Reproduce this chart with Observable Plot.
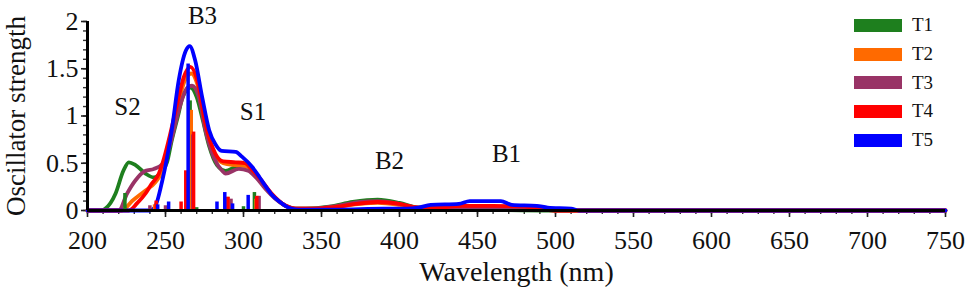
<!DOCTYPE html>
<html>
<head>
<meta charset="utf-8">
<script src="https://cdn.jsdelivr.net/npm/d3@7"></script>
<script src="https://cdn.jsdelivr.net/npm/@observablehq/plot@0.6"></script>
<style>
  body { margin: 0; background: #fff; }
  #wrap { position: relative; width: 975px; height: 290px; }
  #legend { position: absolute; left: 854px; top: 11px; font-family: "Liberation Serif", serif; font-size: 19px; color: #111; }
  .item { display: flex; align-items: center; height: 28.7px; }
  .sw { width: 48px; height: 13px; margin-right: 10px; }
</style>
</head>
<body>
<div id="wrap"><div id="legend"></div></div>
<script>
// Series
const seriesNames = ["T1", "T2", "T3", "T4", "T5"];
const seriesColors = ["#1e7f1e", "#ff6a00", "#993366", "#ff0000", "#0000ff"];

// Convoluted spectra: [wavelength nm, oscillator strength]
const spectrumT1 = [[200,0],[209,0],[211.5,0.02],[218,0.18],[223,0.42],[226.5,0.51],[230.8,0.48],[237.2,0.39],[242.5,0.35],[247.9,0.42],[251,0.51],[254,0.74],[258,1.0],[261,1.2],[266,1.3],[270,1.2],[274,0.95],[278,0.68],[283,0.48],[288.5,0.42],[295,0.46],[301,0.48],[305.6,0.42],[310,0.33],[314,0.25],[320,0.14],[324.8,0.07],[333,0.02],[340,0.02],[355,0.04],[370,0.09],[386,0.115],[400,0.08],[412,0.03],[425,0.02],[450,0.01],[500,0],[750,0]];
const spectrumT2 = [[200,0],[222,0],[228.6,0.1],[237,0.21],[243.6,0.3],[248,0.42],[252,0.68],[257.5,1.08],[262,1.36],[266.5,1.45],[270.5,1.33],[275.6,0.9],[282,0.58],[287,0.5],[295,0.48],[301,0.47],[305,0.42],[310,0.33],[318,0.17],[327,0.05],[333,0.02],[345,0.02],[360,0.04],[375,0.07],[386,0.08],[400,0.06],[412,0.03],[430,0.03],[450,0.04],[470,0.03],[490,0.01],[500,0],[750,0]];
const spectrumT3 = [[200,0],[220,0],[225.4,0.18],[230.8,0.32],[237.2,0.42],[242.5,0.44],[247.9,0.49],[253,0.7],[258.5,1.06],[263.9,1.3],[267,1.32],[271.4,1.2],[275.6,0.85],[281,0.56],[286.3,0.42],[288.5,0.39],[297,0.44],[303,0.42],[308,0.35],[314,0.23],[320,0.13],[325,0.07],[334,0.02],[345,0.02],[360,0.05],[375,0.09],[386,0.1],[400,0.07],[412,0.03],[430,0.02],[450,0.03],[470,0.02],[490,0.01],[500,0],[750,0]];
const spectrumT4 = [[200,0],[226.5,0],[232,0.08],[237.2,0.18],[241,0.28],[245.7,0.39],[249,0.55],[252,0.74],[257.5,1.13],[261.7,1.41],[266,1.52],[270.3,1.38],[275.6,0.92],[282,0.6],[287,0.52],[295,0.51],[301,0.5],[305,0.44],[310,0.35],[318,0.18],[327,0.05],[333,0.02],[345,0.02],[360,0.04],[372,0.07],[386,0.09],[400,0.07],[412,0.03],[425,0.03],[440,0.05],[460,0.05],[480,0.04],[492,0.01],[500,0],[750,0]];
const spectrumT5 = [[200,0],[240,0],[243,0.03],[248,0.32],[254,0.85],[258.5,1.38],[263,1.69],[265.5,1.74],[269,1.59],[273.5,1.2],[278,0.85],[282,0.7],[286,0.63],[295,0.62],[299,0.57],[305.6,0.46],[310,0.36],[314,0.26],[318,0.17],[322.6,0.1],[329,0.03],[335,0.01],[360,0.01],[390,0.02],[405,0.02],[412,0.03],[420,0.06],[438,0.07],[445,0.1],[465,0.1],[472,0.06],[488,0.05],[495,0.03],[510,0.02],[515,0],[750,0]];

// Individual transitions (sticks): [wavelength nm, oscillator strength]
const sticksT1 = [[224,0.18],[265.8,1.16],[270,0.03],[300,0.04],[307,0.19]];
const sticksT2 = [[243,0.06],[266.5,1.06],[290,0.14],[308,0.12]];
const sticksT3 = [[240,0.05],[250,0.05],[267.5,0.8],[292,0.12],[310,0.15]];
const sticksT4 = [[244,0.1],[260,0.09],[263,0.42],[268,0.83],[290,0.14],[308.5,0.15]];
const sticksT5 = [[245,0.06],[252,0.09],[264.5,1.55],[283,0.09],[288,0.19],[293,0.07],[303,0.16]];

// Band labels
const bandLabels = [
  {text: "B3", w: 273.7, f: 2.06},
  {text: "S2", w: 225.6, f: 1.09},
  {text: "S1", w: 306.1, f: 1.04},
  {text: "B2", w: 393.6, f: 0.52},
  {text: "B1", w: 468.6, f: 0.60}
];

// Axis ticks
const xMajor = d3.range(200, 751, 50);
const xMinor = d3.range(200, 751, 10);
const yMajor = [0, 0.5, 1, 1.5, 2];
const yMinor = d3.range(0, 2.0001, 0.1);
const yTickLabels = ["0", "0.5", "1", "1.5", "2"];

const spectra = [spectrumT1, spectrumT2, spectrumT3, spectrumT4, spectrumT5];
const sticks = [sticksT1, sticksT2, sticksT3, sticksT4, sticksT5];

const lineData = spectra.flatMap((arr, i) => arr.map(([w, f]) => ({s: seriesNames[i], w, f})));
const stickData = sticks.flatMap((arr, i) => arr.map(([w, f]) => ({s: seriesNames[i], w, f})));

const chart = Plot.plot({
  width: 975,
  height: 290,
  marginLeft: 87,
  marginRight: 30,
  marginTop: 21,
  marginBottom: 80,
  style: {fontFamily: "Liberation Serif", background: "white", color: "#111"},
  x: {domain: [200, 750]},
  y: {domain: [0, 2]},
  color: {domain: seriesNames, range: seriesColors},
  marks: [
    Plot.axisX({ticks: xMinor, tickSize: 4, tickFormat: () => "", stroke: "#333", strokeWidth: 1.4, label: null}),
    Plot.axisX({ticks: xMajor, tickSize: 7, tickPadding: 13, fontSize: 26, stroke: "#222", strokeWidth: 1.6,
      label: "Wavelength (nm)", labelAnchor: "center", labelOffset: 70, labelArrow: "none"}),
    Plot.axisY({ticks: yMinor, tickSize: 4, tickFormat: () => "", stroke: "#333", strokeWidth: 1.4, label: null}),
    Plot.axisY({ticks: yMajor, tickSize: 6, tickPadding: 3, fontSize: 26, stroke: "#222", strokeWidth: 1.6,
      tickFormat: (d) => yTickLabels[yMajor.indexOf(d)],
      label: "Oscillator strength", labelAnchor: "center", labelOffset: 82, labelArrow: "none"}),
    Plot.line(lineData, {x: "w", y: "f", z: "s", stroke: "s", strokeWidth: 3.8, curve: "monotone-x"}),
    Plot.ruleX(stickData, {x: "w", y1: 0, y2: "f", stroke: "s", strokeWidth: 3.5}),
    Plot.ruleY([0], {stroke: "black", strokeWidth: 3}),
    Plot.ruleX([200], {stroke: "black", strokeWidth: 3}),
    Plot.text(bandLabels, {x: "w", y: "f", text: "text", fontSize: 25, fill: "#111", lineAnchor: "middle"})
  ]
});

document.getElementById("wrap").prepend(chart);

// Larger axis titles, as in the reference
chart.querySelectorAll("[aria-label='x-axis label'] text").forEach(t => t.setAttribute("font-size", 28));
chart.querySelectorAll("[aria-label='y-axis label'] text").forEach(t => t.setAttribute("font-size", 27));
chart.querySelectorAll("[aria-label='x-axis label'], [aria-label='y-axis label']").forEach(g => g.setAttribute("font-size", g.getAttribute("aria-label")[0] === "x" ? 28 : 27));

const legend = document.getElementById("legend");
seriesNames.forEach((name, i) => {
  const item = document.createElement("div");
  item.className = "item";
  item.innerHTML = `<div class="sw" style="background:${seriesColors[i]}"></div><span>${name}</span>`;
  legend.appendChild(item);
});
</script>
</body>
</html>
